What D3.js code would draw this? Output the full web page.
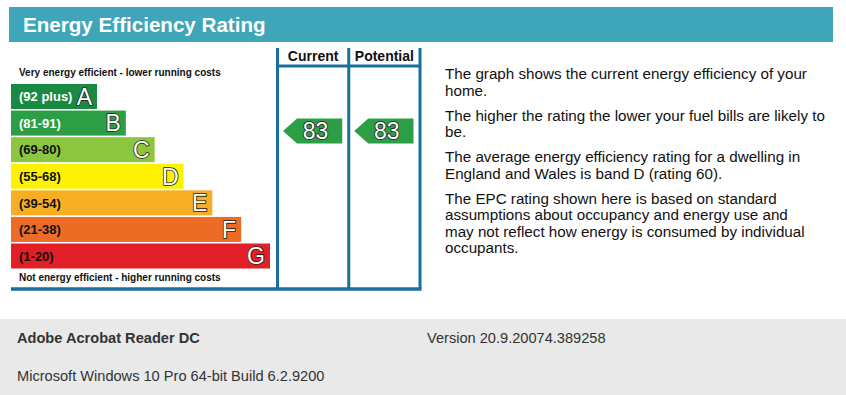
<!DOCTYPE html>
<html>
<head>
<meta charset="utf-8">
<script src="https://cdn.jsdelivr.net/npm/d3@7"></script>
<style>
  body { margin: 0; background: #fff; }
  svg { display: block; font-family: Arial, "Liberation Sans", sans-serif; }
</style>
</head>
<body>
<div id="chart"></div>
<script>
// Bands of the rating scale, best first
const bandLetters = ['A', 'B', 'C', 'D', 'E', 'F', 'G'];
const bandRanges = ['(92 plus)', '(81-91)', '(69-80)', '(55-68)', '(39-54)', '(21-38)', '(1-20)'];
const bandMins = [92, 81, 69, 55, 39, 21, 1];
const bandColors = ['#1a8a43', '#2c9e45', '#8cc63f', '#fff200', '#f6ae24', '#ec6c26', '#e21e26'];
const rangeTextColors = ['#fff', '#fff', '#111', '#111', '#111', '#111', '#111'];

const ratingColumns = ['Current', 'Potential'];
const ratingValues = [83, 83];

const noteParagraphs = [
    ['The graph shows the current energy efficiency of your', 'home.'],
    ['The higher the rating the lower your fuel bills are likely to', 'be.'],
    ['The average energy efficiency rating for a dwelling in', 'England and Wales is band D (rating 60).'],
    ['The EPC rating shown here is based on standard', 'assumptions about occupancy and energy use and',
     'may not reflect how energy is consumed by individual', 'occupants.']
];

const footerRows = [
    { name: 'Adobe Acrobat Reader DC', value: 'Version 20.9.20074.389258' },
    { name: 'Microsoft Windows 10 Pro 64-bit Build 6.2.9200', value: '' }
];

const W = 846, H = 395;
const frameColor = '#17709b';

const svg = d3.select('#chart').append('svg')
    .attr('width', W)
    .attr('height', H);

// Title bar
svg.append('rect')
    .attr('x', 9).attr('y', 7)
    .attr('width', 824).attr('height', 35)
    .attr('fill', '#3fa6ba');
svg.append('text')
    .attr('x', 23).attr('y', 32)
    .attr('fill', '#fff')
    .style('font-size', '20.6px')
    .style('font-weight', 'bold')
    .text('Energy Efficiency Rating');

// Scales
const y = d3.scaleBand()
    .domain(bandLetters)
    .range([84, 268.5])
    .paddingInner(0.06);
const barWidth = d3.scaleLinear()
    .domain([0, bandLetters.length - 1])
    .range([86, 259]);
const x0 = 11;
const col = d3.scaleBand()
    .domain(ratingColumns)
    .range([277.5, 420]);

// Bands
const bands = svg.append('g').attr('class', 'bands')
    .selectAll('g')
    .data(bandLetters)
    .join('g');

bands.append('rect')
    .attr('x', x0)
    .attr('y', d => y(d))
    .attr('width', (d, i) => barWidth(i))
    .attr('height', y.bandwidth())
    .attr('fill', (d, i) => bandColors[i]);

bands.append('text')
    .attr('x', x0 + 8)
    .attr('y', d => y(d) + y.bandwidth() / 2)
    .attr('dy', '0.36em')
    .attr('fill', (d, i) => rangeTextColors[i])
    .style('font-size', '13px')
    .style('font-weight', 'bold')
    .text((d, i) => bandRanges[i]);

bands.append('text')
    .attr('x', (d, i) => x0 + barWidth(i) - 5)
    .attr('y', d => y(d) + y.bandwidth() / 2)
    .attr('dy', '0.36em')
    .attr('text-anchor', 'end')
    .attr('fill', '#fff')
    .attr('stroke', '#222')
    .attr('stroke-width', 1.6)
    .attr('paint-order', 'stroke')
    .style('font-size', '23px')
    .text(d => d);

// Captions above and below the scale
svg.append('text')
    .attr('x', 19).attr('y', 75.5)
    .attr('fill', '#111')
    .style('font-size', '10px')
    .style('font-weight', 'bold')
    .text('Very energy efficient - lower running costs');
svg.append('text')
    .attr('x', 19).attr('y', 280.5)
    .attr('fill', '#111')
    .style('font-size', '10px')
    .style('font-weight', 'bold')
    .text('Not energy efficient - higher running costs');

// Column frame
const frame = svg.append('g').attr('stroke', frameColor).attr('stroke-width', 3);
const colEdges = ratingColumns.map(c => col(c)).concat([col.range()[1]]);
colEdges.forEach(cx => {
    frame.append('line')
        .attr('x1', cx).attr('x2', cx)
        .attr('y1', 48).attr('y2', 289);
});
frame.append('line')
    .attr('x1', col.range()[0]).attr('x2', col.range()[1])
    .attr('y1', 66).attr('y2', 66);
frame.append('line')
    .attr('x1', x0).attr('x2', col.range()[1] + 1.5)
    .attr('y1', 289).attr('y2', 289)
    .attr('stroke-width', 3.5);

// Column headings
svg.append('g').selectAll('text')
    .data(ratingColumns)
    .join('text')
    .attr('x', d => col(d) + col.bandwidth() / 2)
    .attr('y', 61)
    .attr('text-anchor', 'middle')
    .attr('fill', '#111')
    .style('font-size', '14px')
    .style('font-weight', 'bold')
    .text(d => d);

// Rating arrows
const bandOf = v => bandLetters[bandMins.findIndex(m => v >= m)];
const bandColorOf = v => bandColors[bandMins.findIndex(m => v >= m)];
const arrowH = 25, tip = 14;
const arrows = svg.append('g').selectAll('g')
    .data(ratingColumns.map((c, i) => ({ column: c, value: ratingValues[i] })))
    .join('g')
    .attr('transform', d => `translate(${col(d.column) + 5.5},${y(bandOf(d.value)) + y.bandwidth() / 2 + 8})`);

arrows.append('path')
    .attr('d', d => {
        const w = col.bandwidth() - 12;
        return `M0,0 L${tip},${-arrowH / 2} L${w},${-arrowH / 2} L${w},${arrowH / 2} L${tip},${arrowH / 2} Z`;
    })
    .attr('fill', d => bandColorOf(d.value));

arrows.append('text')
    .attr('x', (col.bandwidth() - 12) / 2 + 3)
    .attr('y', 0)
    .attr('dy', '0.36em')
    .attr('text-anchor', 'middle')
    .attr('fill', '#fff')
    .attr('stroke', '#222')
    .attr('stroke-width', 1.6)
    .attr('paint-order', 'stroke')
    .style('font-size', '23px')
    .text(d => d.value);

// Explanatory notes
const notes = svg.append('g').attr('fill', '#111').style('font-size', '15.2px');
let ny = 79;
noteParagraphs.forEach(p => {
    p.forEach(line => {
        notes.append('text').attr('x', 445).attr('y', ny).text(line);
        ny += 16.5;
    });
    ny += 8.5;
});

// Footer
svg.append('rect')
    .attr('x', 0).attr('y', 319)
    .attr('width', W).attr('height', H - 319)
    .attr('fill', '#e9e9e9');
const footer = svg.append('g').attr('fill', '#333').style('font-size', '14.6px');
footerRows.forEach((r, i) => {
    const fy = 343 + i * 38;
    footer.append('text')
        .attr('x', 17).attr('y', fy)
        .style('font-weight', i === 0 ? 'bold' : 'normal')
        .text(r.name);
    if (r.value) {
        footer.append('text').attr('x', 427).attr('y', fy).text(r.value);
    }
});
</script>
</body>
</html>
